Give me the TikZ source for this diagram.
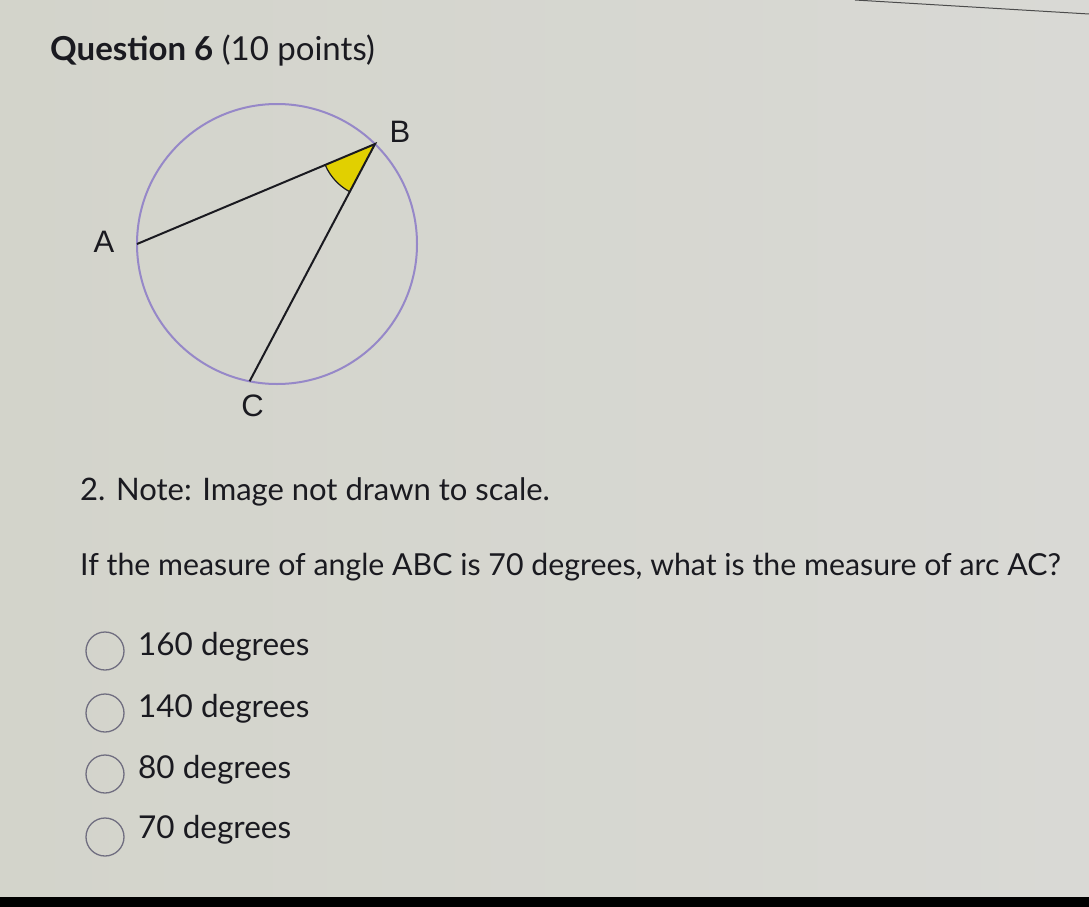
\documentclass[tikz,border=0pt]{standalone}
\usepackage{fontspec}
\setmainfont{Lato}
\newfontfamily\labelfont{Liberation Sans}
\definecolor{bgleft}{RGB}{211,212,203}
\definecolor{bgright}{RGB}{217,217,213}
\definecolor{ringcol}{RGB}{150,136,200}
\definecolor{inkcol}{RGB}{26,26,32}
\definecolor{optcol}{RGB}{112,110,128}
\definecolor{angfill}{RGB}{225,208,0}
\tikzset{
  txt/.style={anchor=base west, inner sep=0pt, text=inkcol},
  opttxt/.style={txt, font=\fontsize{31.5}{36}\selectfont},
  ptlabel/.style={inner sep=0pt, text=inkcol, font=\labelfont\fontsize{31}{34}\selectfont},
  optring/.style={draw=optcol, line width=1.3pt, circle, minimum size=38pt, inner sep=0pt},
  chord/.style={draw=inkcol, line width=2pt},
}
\begin{document}
\begin{tikzpicture}[x=1pt,y=-1pt]
\useasboundingbox (0,0) rectangle (1089,907);
\shade[left color=bgleft, right color=bgright] (0,0) rectangle (1089,907);
\fill[black] (0,897) rectangle (1089,907);
\draw[gray!60!black, line width=1pt] (855,0) -- (1089,14);
% title
\node[txt, font=\fontsize{33}{38}\selectfont] (title) at (50,60) {\textbf{Question 6} (10 points)};
% circle figure
\coordinate (O) at (277,244);
\coordinate (A) at (137,244);
\coordinate (B) at (375,144);
\coordinate (C) at (249.6,381.3);
\begin{scope}
  \clip (A) -- (B) -- (C) -- cycle;
  \fill[angfill] (B) circle (54pt);
  \draw[inkcol, line width=1.2pt] (B) circle (54pt);
\end{scope}
\draw[ringcol, line width=2pt] (O) circle (140pt);
\draw[chord] (A) -- (B) -- (C);
\node[ptlabel] (lA) at (104,242) {A};
\node[ptlabel] (lB) at (400,132) {B};
\node[ptlabel] (lC) at (252.5,406) {C};
% question text
\node[txt, font=\fontsize{31}{36}\selectfont] (note) at (80,500) {2. Note: Image not drawn to scale.};
\node[txt, font=\fontsize{30.3}{36}\selectfont] (q) at (80,575) {If the measure of angle ABC is 70 degrees, what is the measure of arc AC?};
% options
\node[optring] (r1) at (105,651) {};
\node[optring] (r2) at (105,713) {};
\node[optring] (r3) at (105,774) {};
\node[optring] (r4) at (105,837) {};
\node[opttxt] (o1) at (138,655) {160 degrees};
\node[opttxt] (o2) at (138,717) {140 degrees};
\node[opttxt] (o3) at (138,778) {80 degrees};
\node[opttxt] (o4) at (138,838) {70 degrees};
\end{tikzpicture}
\end{document}
